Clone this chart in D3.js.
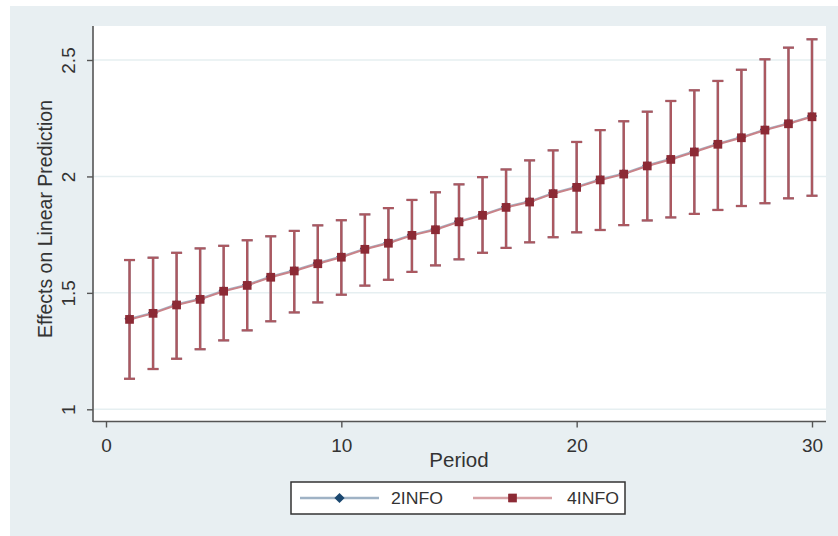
<!DOCTYPE html>
<html>
<head>
<meta charset="utf-8">
<script src="https://cdn.jsdelivr.net/npm/d3@7"></script>
<style>
  html, body { margin: 0; padding: 0; background: #ffffff; }
  svg { display: block; }
  text { font-family: "Liberation Sans", Arial, sans-serif; fill: #333; }
</style>
</head>
<body>
<svg id="chart" width="838" height="536"></svg>
<script>
// ---- data ----
const periods = d3.range(1, 31);
const info4Mean  = [1.386,1.412,1.448,1.472,1.507,1.532,1.567,1.594,1.625,1.653,1.687,1.713,1.747,1.771,1.805,1.833,1.867,1.890,1.926,1.953,1.985,2.010,2.045,2.073,2.105,2.138,2.166,2.199,2.226,2.256];
const info4Upper = [1.641,1.651,1.672,1.691,1.702,1.726,1.743,1.766,1.790,1.812,1.837,1.864,1.899,1.932,1.966,1.997,2.030,2.069,2.112,2.148,2.199,2.237,2.278,2.324,2.370,2.410,2.458,2.503,2.553,2.589];
const info4Lower = [1.131,1.173,1.217,1.258,1.296,1.339,1.378,1.416,1.459,1.492,1.531,1.556,1.590,1.618,1.644,1.672,1.693,1.717,1.739,1.760,1.770,1.791,1.811,1.824,1.839,1.856,1.873,1.885,1.906,1.917];
const info2Mean  = [1.389,1.415,1.451,1.475,1.510,1.535,1.570,1.597,1.628,1.656,1.690,1.716,1.750,1.774,1.808,1.836,1.870,1.893,1.929,1.956,1.988,2.013,2.048,2.076,2.108,2.141,2.169,2.202,2.229,2.259];
const info2Upper = info4Upper.slice();
const info2Lower = info4Lower.slice();
const xTicks = [0, 10, 20, 30];
const yTicks = [1, 1.5, 2, 2.5];
const yTickLabels = ["1", "1.5", "2", "2.5"];
const seriesNames = ["2INFO", "4INFO"];

// ---- layout ----
const svg = d3.select("#chart");
const plot = { left: 93, right: 826, top: 26, bottom: 421 };
const x = d3.scaleLinear().domain([0, 30]).range([106, 812]);
const y = d3.scaleLinear().domain([1, 2.5]).range([409.3, 60]);

// outer background
svg.append("rect").attr("x", 10).attr("y", 6).attr("width", 828).attr("height", 530).attr("fill", "#e8eff2");
// plot region
svg.append("rect").attr("x", plot.left).attr("y", plot.top)
  .attr("width", plot.right - plot.left).attr("height", plot.bottom - plot.top).attr("fill", "#ffffff");

// gridlines
svg.append("g").selectAll("line").data(yTicks).join("line")
  .attr("x1", plot.left).attr("x2", plot.right)
  .attr("y1", d => y(d)).attr("y2", d => y(d))
  .attr("stroke", "#e6eff1").attr("stroke-width", 1.5);

// axes
const yAxis = d3.axisLeft(y).tickValues(yTicks).tickFormat((d, i) => yTickLabels[i]).tickSize(6).tickPadding(9);
const gy = svg.append("g").attr("transform", `translate(${plot.left},0)`).call(yAxis);
gy.select(".domain").attr("d", `M0,${plot.top}V${plot.bottom + 1}`).attr("stroke", "#555").attr("stroke-width", 1.6);
gy.selectAll(".tick line").attr("stroke", "#555").attr("stroke-width", 1.4);
gy.selectAll(".tick text")
  .attr("font-size", 19).attr("fill", "#333")
  .attr("text-anchor", "middle")
  .attr("transform", "rotate(-90)")
  .attr("x", 0).attr("y", -18).attr("dy", 0);

const xAxis = d3.axisBottom(x).tickValues(xTicks).tickFormat(d3.format("d")).tickSize(6).tickPadding(11);
const gx = svg.append("g").attr("transform", `translate(0,${plot.bottom + 0.5})`).call(xAxis);
gx.select(".domain").attr("d", `M${plot.left},0H${plot.right}`).attr("stroke", "#555").attr("stroke-width", 1.6);
gx.selectAll(".tick line").attr("stroke", "#555").attr("stroke-width", 1.4);
gx.selectAll(".tick text").attr("font-size", 19).attr("fill", "#333");

// axis titles
svg.append("text").attr("x", 459).attr("y", 467).attr("text-anchor", "middle")
  .attr("font-size", 20.5).text("Period");
svg.append("text").attr("transform", "translate(52,219) rotate(-90)").attr("text-anchor", "middle")
  .attr("font-size", 19.5).text("Effects on Linear Prediction");

// series drawing helper
function drawSeries(mean, upper, lower, barColor, lineColor, markerColor, shape) {
  const g = svg.append("g");
  const capW = 5.5;
  g.selectAll("line.bar").data(periods).join("line").attr("class", "bar")
    .attr("x1", (d) => x(d)).attr("x2", (d) => x(d))
    .attr("y1", (d, i) => y(upper[i])).attr("y2", (d, i) => y(lower[i]))
    .attr("stroke", barColor).attr("stroke-width", 2.4);
  g.selectAll("line.capU").data(periods).join("line").attr("class", "capU")
    .attr("x1", d => x(d) - capW).attr("x2", d => x(d) + capW)
    .attr("y1", (d, i) => y(upper[i])).attr("y2", (d, i) => y(upper[i]))
    .attr("stroke", barColor).attr("stroke-width", 2.2);
  g.selectAll("line.capL").data(periods).join("line").attr("class", "capL")
    .attr("x1", d => x(d) - capW).attr("x2", d => x(d) + capW)
    .attr("y1", (d, i) => y(lower[i])).attr("y2", (d, i) => y(lower[i]))
    .attr("stroke", barColor).attr("stroke-width", 2.2);
  g.append("path").datum(periods)
    .attr("d", d3.line().x(d => x(d)).y((d, i) => y(mean[i])))
    .attr("fill", "none").attr("stroke", lineColor).attr("stroke-width", 2);
  const sym = d3.symbol().type(d3.symbolSquare).size(shape === "square" ? 76 : 52);
  g.selectAll("path.mk").data(periods).join("path").attr("class", "mk")
    .attr("transform", (d, i) => `translate(${x(d)},${y(mean[i])})` + (shape === "square" ? "" : " rotate(45)"))
    .attr("d", sym).attr("fill", markerColor);
}

drawSeries(info2Mean, info2Upper, info2Lower, "#9fb0c2", "#a4b6c8", "#1a476f", "diamond");
drawSeries(info4Mean, info4Upper, info4Lower, "#ab5860", "#c98389", "#8c2a35", "square");

// legend
const lg = svg.append("g");
lg.append("rect").attr("x", 291).attr("y", 482).attr("width", 334).attr("height", 32)
  .attr("fill", "#ffffff").attr("stroke", "#333").attr("stroke-width", 1.5);
const legendItems = [
  { name: seriesNames[0], x0: 300, x1: 379, tx: 391, line: "#9fb2c5", mk: "#1a476f", rot: 45, size: 52 },
  { name: seriesNames[1], x0: 473, x1: 552, tx: 567, line: "#d7a2a6", mk: "#8c2a35", rot: 0, size: 76 }
];
legendItems.forEach(it => {
  lg.append("line").attr("x1", it.x0).attr("x2", it.x1).attr("y1", 498).attr("y2", 498)
    .attr("stroke", it.line).attr("stroke-width", 2.5);
  lg.append("path").attr("transform", `translate(${(it.x0 + it.x1) / 2},498) rotate(${it.rot})`)
    .attr("d", d3.symbol().type(d3.symbolSquare).size(it.size)).attr("fill", it.mk);
  lg.append("text").attr("x", it.tx).attr("y", 504).attr("font-size", 16)
    .attr("textLength", 52).attr("lengthAdjust", "spacingAndGlyphs").text(it.name);
});
</script>
</body>
</html>
